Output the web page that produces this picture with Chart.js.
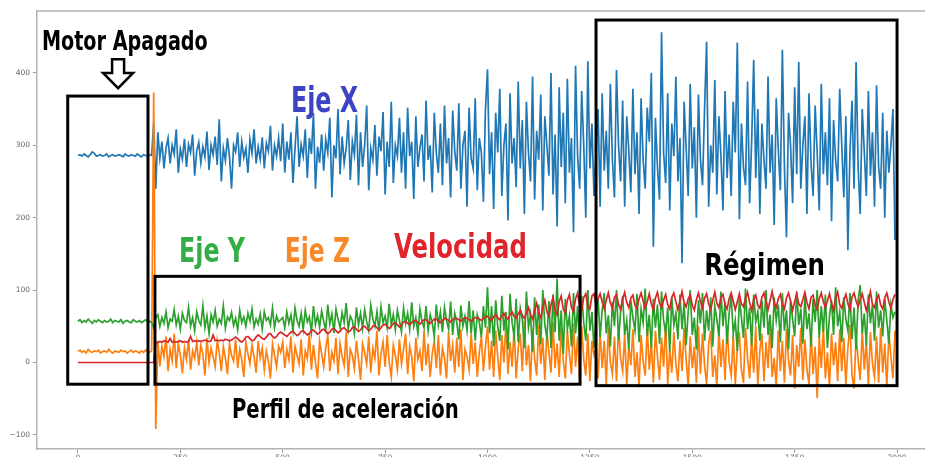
<!DOCTYPE html>
<html>
<head>
<meta charset="utf-8">
<script src="https://cdn.jsdelivr.net/npm/chart.js@4.4.1/dist/chart.umd.min.js"></script>
<style>
  html, body { margin: 0; padding: 0; background: #fff; overflow: hidden; }
  #wrap { position: absolute; left: 0; top: 0; width: 945px; height: 470px; }
</style>
</head>
<body>
<div id="wrap"><canvas id="chart" width="945" height="470"></canvas></div>
<script>
  // one value every 5 samples
  var sampleStep = 5;
  var xTicks = [0, 250, 500, 750, 1000, 1250, 1500, 1750, 2000];
  var yTicks = [-100, 0, 100, 200, 300, 400];

  var ejeX = [
    // motor apagado
    286,287,285,288,286,284,287,291,289,285,286,287,285,286,288,284,286,287,285,286,
    287,286,284,288,286,285,287,286,285,288,286,284,287,286,285,287,286,
    // arranque
    332,240,
    318,282,305,268,296,310,275,300,288,322,262,295,281,309,270,301,290,315,258,292,
    304,276,298,284,319,266,300,287,312,273,336,250,296,279,310,284,240,300,291,318,
    270,305,283,296,262,308,289,322,275,298,281,311,268,303,292,327,265,300,285,310,278,
    330,262,305,280,318,248,296,340,270,301,285,322,255,310,288,345,240,298,276,315,
    265,308,290,338,228,300,282,350,260,312,275,296,335,252,305,287,342,245,318,270,
    300,355,238,296,280,328,258,312,292,346,232,305,270,360,248,300,285,338,262,318,
    240,352,285,305,226,340,270,296,315,250,362,280,300,235,345,290,262,330,245,355,
    275,310,228,348,292,265,358,240,300,320,215,352,282,268,365,238,310,290,222,350,
    405,260,318,212,345,290,378,230,300,330,196,372,275,310,242,388,268,335,205,360,
    290,250,395,225,320,280,370,210,340,300,258,400,232,315,188,380,270,345,220,392,
    262,310,180,410,285,240,375,300,200,416,268,330,230,
    // regimen
    290,350,215,372,265,320,240,385,280,228,404,300,250,362,215,340,292,235,378,260,
    318,205,365,280,240,352,305,400,160,338,270,225,456,290,248,372,210,330,285,395,
    250,310,137,360,298,230,385,268,325,200,370,280,245,350,443,215,300,262,390,232,
    340,285,210,375,255,315,230,360,290,442,198,330,270,245,388,220,305,418,255,350,
    205,330,280,240,395,262,315,190,365,295,238,432,270,173,345,300,220,380,260,415,
    240,300,340,205,372,275,230,355,290,210,385,260,318,245,365,195,335,280,250,378,
    300,228,340,155,290,362,240,415,270,205,350,292,230,375,258,318,215,383,270,240,
    345,200,320,262,300,350,169
  ];

  var ejeY = [
    57,59,55,58,56,60,57,54,58,56,59,57,55,58,56,57,60,55,58,57,
    56,59,54,57,58,56,55,59,57,56,58,55,57,59,56,57,55,
    48,62,
    66,50,62,54,70,48,60,57,73,52,64,46,68,58,55,76,50,62,44,70,
    58,52,78,48,64,40,66,56,72,50,60,54,78,47,63,58,69,51,61,45,
    72,55,63,50,68,57,74,49,60,53,67,46,70,58,62,52,75,48,64,56,59,
    62,48,70,54,66,44,75,58,50,68,46,72,56,63,42,78,52,65,49,71,
    57,45,80,53,67,41,74,60,48,69,55,82,46,64,58,40,76,52,68,47,
    73,56,44,79,60,50,70,43,77,55,64,48,81,52,66,45,72,58,42,75,
    54,68,46,83,50,62,40,74,57,48,78,44,66,55,36,80,52,70,42,76,
    58,46,84,38,68,55,32,79,50,64,44,85,40,72,30,66,56,35,78,48,
    104,40,78,22,86,50,30,92,44,70,18,95,55,36,88,28,75,60,20,98,
    48,66,15,90,38,80,25,100,52,34,85,20,94,42,116,30,72,12,88,46,
    64,22,96,40,78,18,92,55,30,100,44,70,20,
    60,88,35,72,96,40,65,22,84,50,100,30,70,92,38,58,18,86,62,44,
    95,28,74,55,102,36,66,20,88,48,80,26,98,58,40,76,15,90,52,68,
    32,94,46,82,24,70,100,38,62,18,86,54,96,30,72,44,90,22,78,60,
    36,98,50,84,26,68,92,40,58,16,88,62,34,102,46,76,24,94,56,70,
    30,86,48,100,38,66,20,90,58,80,28,96,44,72,18,84,60,36,98,52,
    74,26,92,46,68,22,88,56,100,34,78,42,94,20,64,86,38,104,50,70,
    28,90,60,44,96,32,76,18,86,107,40,68,24,94,54,80,30,98,48,72,
    36,88,58,26,80,62,70
  ];

  var ejeZ = [
    15,17,14,16,13,18,15,14,16,15,17,13,15,16,14,18,15,13,16,15,
    14,17,15,16,13,15,17,14,16,15,13,16,14,17,15,14,16,
    373,-92,
    30,-5,22,8,36,-12,18,2,40,-8,26,10,-15,20,4,32,-10,16,6,28,
    -4,24,12,-18,34,0,20,8,-6,30,14,-12,22,6,-16,26,10,2,32,-8,
    18,4,-20,28,12,-2,24,8,-14,30,6,20,-10,16,2,-22,26,10,-6,22,14,
    28,-8,18,4,36,-14,22,10,-2,32,-18,16,6,40,-10,24,0,-22,30,12,
    -6,20,38,-12,14,2,34,-16,26,8,-4,42,-20,18,10,-8,30,4,-24,26,
    14,-2,36,-14,20,6,44,-18,12,28,-6,38,0,-20,24,10,-10,32,-2,18,
    40,-16,22,8,-26,34,4,16,-12,44,-4,26,-20,12,30,-8,38,-18,20,6,
    -22,42,2,24,-14,34,-6,46,-24,18,8,-10,40,-2,28,-20,14,36,-12,22,
    50,-10,30,-20,44,8,-24,38,0,56,-16,28,-6,48,-22,20,40,-12,58,-4,
    24,-26,46,6,-18,52,-2,34,-24,42,14,-14,56,-8,26,-20,48,2,-22,44,
    12,-16,54,-6,36,-24,50,4,-18,40,-26,30,10,
    20,-22,42,-8,30,-30,48,0,-16,36,-26,52,6,-12,40,-32,24,-4,46,-20,
    14,-34,38,2,-18,50,-10,28,-28,44,8,-24,34,-6,54,-30,18,-14,42,-2,
    -26,30,-12,48,4,-32,36,-8,22,-28,50,-16,40,-4,-30,26,44,-20,10,-34,
    46,-6,32,-24,52,0,-18,38,-30,20,42,-10,-28,48,6,-22,34,-14,50,-32,
    16,40,-26,28,-8,54,-20,6,-34,44,-12,30,-28,46,2,-18,38,-36,24,-6,
    48,-24,32,-10,-30,42,-16,22,-49,36,-8,50,-22,14,-34,40,-4,28,-26,46,
    -12,34,-30,20,52,-18,-36,38,4,-24,46,-10,30,-32,42,-2,-20,36,-28,48,
    -14,26,-34,40,8,-22,44
  ];

  var velocidad = [
    0,0,0,0,0,0,0,0,0,0,0,0,0,0,0,0,0,0,0,0,
    0,0,0,0,0,0,0,0,0,0,0,0,0,0,0,0,0,0,
    27,
    28,29,28,30,29,28,33,28,29,28,29,30,28,29,28,29,36,29,30,29,
    30,29,30,31,30,29,30,38,30,31,30,31,30,32,31,30,31,33,35,33,
    30,28,31,35,36,33,30,31,35,38,36,33,32,35,39,40,36,34,36,40,42,
    40,38,36,39,42,43,40,37,39,43,44,41,38,40,44,45,42,39,41,45,
    46,43,40,42,46,47,44,41,43,47,48,45,42,44,48,49,46,43,45,49,
    50,47,44,46,50,51,48,45,48,52,53,50,47,50,54,55,52,49,52,56,
    57,54,52,55,58,58,55,53,56,59,59,56,54,57,60,60,57,55,58,61,
    60,58,56,59,61,61,59,57,60,62,61,59,57,60,62,62,60,58,61,63,
    64,60,58,63,66,62,59,64,68,63,60,66,70,64,61,67,72,65,61,68,
    76,66,60,72,82,68,62,76,86,70,64,80,90,72,66,84,92,74,68,86,
    94,76,70,88,96,78,72,90,95,77,74,92,95,
    78,88,95,84,74,86,96,82,75,90,94,80,73,87,97,83,76,89,93,79,
    74,88,96,85,75,84,95,81,72,89,97,82,76,86,94,80,74,90,96,84,
    73,85,98,83,77,88,93,79,72,87,96,84,75,89,95,81,73,86,97,82,
    76,90,94,80,74,88,96,85,73,84,95,81,77,89,97,83,72,87,93,79,
    75,90,96,84,73,86,98,82,76,88,94,80,74,89,96,85,72,84,95,81,
    77,87,97,83,74,90,93,79,73,88,96,84,76,85,95,82,72,89,97,80,
    75,86,94,81,73,90,96,85,77,87,95,83,72,84,98,80,76,88,93,79,
    74,89,96,84,75,87,94
  ];

  // annotation boxes / labels, in data units
  var boxes = [
    { x0: -25, x1: 171, y0: -30, y1: 368 },
    { x0: 188, x1: 1226, y0: -30, y1: 119 },
    { x0: 1265, x1: 2000, y0: -32, y1: 473 }
  ];
  var notes = [
    { text: 'Motor Apagado', x0: -88, x1: 317, y: 432, size: 26, color: '#000000' },
    { text: 'Eje X', x0: 520, x1: 684, y: 346, size: 36, color: '#3d44c4' },
    { text: 'Eje Y', x0: 247, x1: 408, y: 139, size: 34, color: '#33ad45' },
    { text: 'Eje Z', x0: 505, x1: 664, y: 139, size: 34, color: '#f7892b' },
    { text: 'Velocidad', x0: 772, x1: 1096, y: 144, size: 33, color: '#e0242b' },
    { text: 'Régimen', x0: 1529, x1: 1824, y: 121, size: 31, color: '#000000' },
    { text: 'Perfil de aceleración', x0: 376, x1: 930, y: -77, size: 26, color: '#000000' }
  ];
  var arrow = { x: 98, yTop: 419, yHead: 400, yTip: 379 };

  function toPoints(values) {
    return values.map(function (v, i) { return { x: i * sampleStep, y: v }; });
  }

  var noteFont = "'Liberation Sans Narrow', 'DejaVu Sans Condensed', 'DejaVu Sans', sans-serif";

  var annotations = {
    id: 'annotations',
    afterDatasetsDraw: function (chart) {
      var ctx = chart.ctx;
      var xs = chart.scales.x, ys = chart.scales.y;
      var area = chart.chartArea;
      function px(v) { return xs.getPixelForValue(v); }
      function py(v) { return ys.getPixelForValue(v); }
      ctx.save();

      // top spine
      ctx.strokeStyle = '#b4b4b4';
      ctx.lineWidth = 1.5;
      ctx.beginPath();
      ctx.moveTo(area.left, area.top);
      ctx.lineTo(area.right, area.top);
      ctx.lineTo(area.right, area.bottom);
      ctx.stroke();

      ctx.strokeStyle = '#000';
      ctx.lineWidth = 3;
      boxes.forEach(function (b) {
        ctx.strokeRect(px(b.x0), py(b.y1), px(b.x1) - px(b.x0), py(b.y0) - py(b.y1));
      });

      // hollow arrow
      var cx = px(arrow.x), t = py(arrow.yTop), h = py(arrow.yHead), tip = py(arrow.yTip);
      ctx.lineWidth = 2.5;
      ctx.lineJoin = 'miter';
      ctx.fillStyle = '#fff';
      ctx.beginPath();
      ctx.moveTo(cx - 6, t);
      ctx.lineTo(cx + 6, t);
      ctx.lineTo(cx + 6, h);
      ctx.lineTo(cx + 15, h);
      ctx.lineTo(cx, tip);
      ctx.lineTo(cx - 15, h);
      ctx.lineTo(cx - 6, h);
      ctx.closePath();
      ctx.fill();
      ctx.stroke();

      notes.forEach(function (n) {
        ctx.font = 'bold ' + n.size + 'px ' + noteFont;
        ctx.fillStyle = n.color;
        ctx.textBaseline = 'alphabetic';
        var w = ctx.measureText(n.text).width;
        var left = px(n.x0), right = px(n.x1);
        ctx.save();
        ctx.translate(left, py(n.y));
        ctx.scale((right - left) / w, 1);
        ctx.fillText(n.text, 0, 0);
        ctx.restore();
      });
      ctx.restore();
    }
  };

  var tickFont = { family: 'DejaVu Sans', size: 7.5 };

  function plainLabel(v) {
    return String(v).replace('-', '\u2212');
  }

  new Chart(document.getElementById('chart'), {
    type: 'line',
    data: {
      datasets: [
        { label: 'Velocidad', data: toPoints(velocidad), borderColor: '#d62728', order: 0 },
        { label: 'Eje Y', data: toPoints(ejeY), borderColor: '#2ca02c', order: 1 },
        { label: 'Eje Z', data: toPoints(ejeZ), borderColor: '#ff7f0e', order: 2 },
        { label: 'Eje X', data: toPoints(ejeX), borderColor: '#1f77b4', order: 3 }
      ]
    },
    options: {
      responsive: false,
      animation: false,
      devicePixelRatio: 1,
      layout: { padding: { top: 11, right: 7, left: 0, bottom: 0 } },
      elements: {
        line: { borderWidth: 1.7, tension: 0, fill: false },
        point: { radius: 0, hoverRadius: 0 }
      },
      plugins: { legend: { display: false }, tooltip: { enabled: false } },
      events: [],
      scales: {
        x: {
          type: 'linear',
          min: -100,
          max: 2100,
          afterBuildTicks: function (axis) {
            axis.ticks = xTicks.map(function (v) { return { value: v }; });
          },
          afterFit: function (axis) { axis.height = 21; },
          border: { color: '#b4b4b4', width: 1.5 },
          grid: { drawOnChartArea: false, tickLength: 4, color: '#9a9a9a' },
          ticks: { font: tickFont, color: '#666', padding: 1, maxRotation: 0, callback: plainLabel }
        },
        y: {
          min: -119.5,
          max: 485.5,
          afterBuildTicks: function (axis) {
            axis.ticks = yTicks.map(function (v) { return { value: v }; });
          },
          afterFit: function (axis) { axis.width = 37; },
          border: { color: '#b4b4b4', width: 1.5 },
          grid: { drawOnChartArea: false, tickLength: 4, color: '#9a9a9a' },
          ticks: { font: tickFont, color: '#666', padding: 3, callback: plainLabel }
        }
      }
    },
    plugins: [annotations]
  });
</script>
</body>
</html>
